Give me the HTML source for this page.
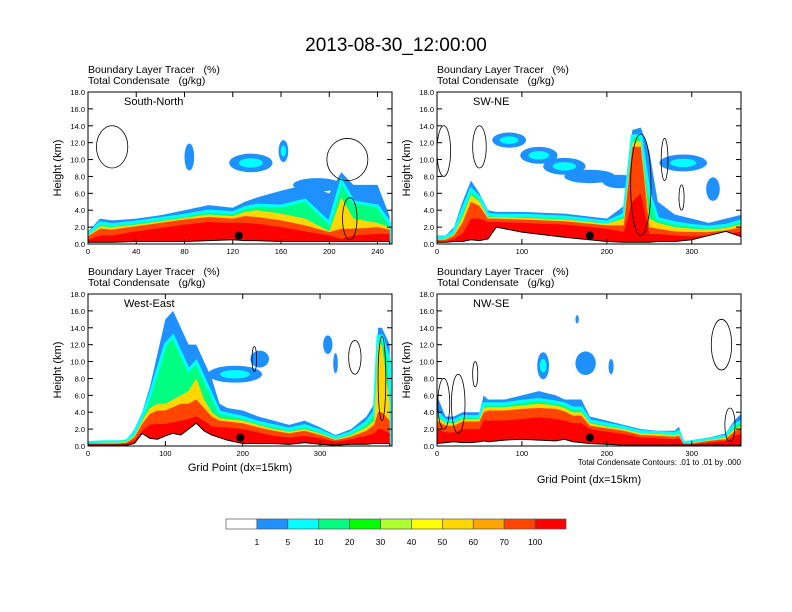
<!DOCTYPE html>
<html><head><meta charset="utf-8">
<style>
body{margin:0;background:#fff;}
svg{display:block;font-family:"Liberation Sans",sans-serif;}
</style></head>
<body>
<svg id="fig" width="792" height="612" viewBox="0 0 792 612">
<text x="396" y="51" text-anchor="middle" font-size="19">2013-08-30_12:00:00</text>
<g id="panels"></g>
<g id="colorbar"></g>
</svg>
<script>
// ---- Data ----
const bandLevels = [1, 10, 40, 70, 100];
const bandColors = ['#1e90ff', '#00ff80', '#ffd700', '#ff4500', '#ff0000'];
const cbLabels = ['1','5','10','20','30','40','50','60','70','100'];
const cbColors = ['#ffffff','#1e90ff','#00ffff','#00ff80','#00ff00','#adff2f','#ffff00','#ffd700','#ffa500','#ff4500','#ff0000'];
const yTicks = [0,2,4,6,8,10,12,14,16,18];

const p1X = [0,10,20,40,60,80,100,120,130,140,160,180,200,210,220,240,250];
const p1Blue = [1.5,3,2.8,3.0,3.4,4.0,4.6,4.3,5,5.5,6.3,7,6,8.5,7,7,3.3];
const p1Green = [1.2,2.5,2.3,2.6,3.0,3.4,3.9,3.7,4.3,4.6,4.5,5.2,2.5,7.5,5,4.5,2.5];
const p1Yellow = [1.0,2.1,2.0,2.3,2.7,3.1,3.5,3.3,3.8,4.0,3.6,3.0,1.5,5.5,3,2.5,2];
const p1Orange = [0.9,1.8,1.7,2.1,2.5,2.9,3.2,3.0,3.3,3.2,2.8,2.2,1.4,1.8,1.8,2,1.7];
const p1Red = [0.5,1.0,1.0,1.5,1.9,2.3,2.6,2.5,2.5,2.4,2.0,1.5,1.0,0.6,1.0,1.2,1.2];
const p1Terrain = [0.2,0.2,0.2,0.3,0.3,0.3,0.4,0.5,0.4,0.4,0.3,0.3,0.3,0.3,0.3,0.3,0.3];
const p1Blobs = [[84,10.3,4,1.6,0],[135,9.6,18,1.1,1],[162,11,4,1.3,1],[190,7.0,20,0.8,0]];
const p1Clouds = [[20,11.5,13,2.5],[215,10,17,2.5],[217,3,6,2.5]];

const p2X = [0,10,20,30,40,50,60,70,100,150,200,220,230,240,250,260,280,300,320,340,360];
const p2Blue = [1,1,2,5,7.5,6,4,3.8,3.8,3.6,3,4.5,13.5,13.8,11,5,3.5,3,2.5,3,3.5];
const p2Green = [0.8,0.8,1.5,4,6.5,5.5,3.5,3.4,3.4,3.2,2.6,3.5,12.8,12.8,6,3,2.5,2.2,2,2.2,2.8];
const p2Yellow = [0.6,0.6,1.2,3.2,5.8,5,3.2,3.2,3.1,2.9,2.4,3,12,12.2,3,2.5,2,1.8,1.7,1.9,2.4];
const p2Orange = [0.5,0.5,1,2.5,5,4.5,3,3,2.9,2.7,2.2,2.2,11.5,11.5,2,1.8,1.5,1.4,1.4,1.6,2];
const p2Red = [0.3,0.3,0.6,1.2,3,3,2.6,2.6,2.5,2.3,1.8,1.4,5,6,1.2,1.2,1,0.9,1,1.2,1.5];
const p2Terrain = [0.2,0.2,0.3,0.3,0.5,0.4,0.6,2.0,1.4,0.8,0.3,0.2,0.2,0.2,0.2,0.3,0.3,0.5,1,1.5,0.8];
const p2Blobs = [[85,12.3,20,0.9,1],[120,10.5,22,1.0,1],[150,9.2,25,1.0,1],[180,8.0,30,0.8,0],[215,7.4,20,0.8,0],[290,9.6,28,1.0,1],[325,6.5,8,1.4,0]];
const p2Clouds = [[8,11,8,3],[50,11.5,8,2.5],[240,7,12,6],[268,10,4,2.5],[288,5.5,3,1.5]];

const p3X = [0,20,40,50,60,70,80,90,100,110,120,130,140,150,160,170,180,200,220,240,260,280,300,320,340,360,370,375,380,390];
const p3Blue = [0.5,0.6,0.6,0.7,2,4,7,11,15,16,14,12,12,10,8,5,4.5,4.2,3.5,3,2.5,3,2.2,1.3,2,3.5,5,14,14,12];
const p3Green = [0.4,0.5,0.5,0.6,1.6,3.5,6,9,12,13,11,9,10,8,6,4,3.8,3.4,2.8,2.4,2,2.4,1.8,1,1.6,2.8,4,13,13,10];
const p3Yellow = [0.3,0.4,0.4,0.5,1.2,3,4.5,5,5,5.5,6,6.5,8,5.5,4,3.3,3.2,3,2.5,2,1.7,2,1.5,0.8,1.3,2.2,3,12,12,5];
const p3Orange = [0.3,0.3,0.3,0.4,1,2.6,3.8,4.2,4.2,4.6,5,5,5.5,4.5,3.5,3,2.9,2.7,2.2,1.8,1.5,1.8,1.3,0.7,1.1,1.8,2.5,4,4,3];
const p3Red = [0.2,0.2,0.2,0.3,0.6,1.8,2.5,2.6,2.6,2.8,3,3.2,3.5,3,2.3,2.2,2.2,2,1.6,1.2,1,1.2,0.9,0.5,0.8,1.2,1.5,2,2,1.5];
const p3Terrain = [0.1,0.1,0.1,0.1,0.3,1.5,0.9,0.8,1.2,1.5,1.3,2,2.7,1.8,1.3,1.0,0.7,0.3,0.3,0.3,0.2,0.4,0.2,0.1,0.2,0.2,0.3,0.3,0.3,0.3];
const p3Blobs = [[190,8.5,35,1.0,1],[222,10.3,12,1.0,0],[310,12,6,1.1,0],[320,9.8,3,1.2,0]];
const p3Clouds = [[345,10.5,8,2],[380,8,5,5],[215,10.3,3,1.5]];

const p4X = [0,10,20,30,40,50,55,60,80,100,120,140,150,160,170,180,200,220,240,260,280,285,290,300,320,340,350,360];
const p4Blue = [6,3.5,3.5,4,4,4,6,5.5,5.5,6,6.5,6,5.5,5.5,5.5,3.5,3,2.5,2,1.8,1.8,2.3,0.5,0.7,1,1.5,3,4];
const p4Green = [4,3,3,3.5,3.5,3.5,5,5,5,5.3,5.5,5.2,5,4.5,4.5,3,2.6,2.2,1.7,1.6,1.5,1.7,0.4,0.5,0.8,1.2,2.5,3];
const p4Yellow = [3.5,2.7,2.7,3.2,3.2,3.2,4.5,4.6,4.6,4.8,5,4.8,4.5,4,4,2.7,2.3,2,1.5,1.4,1.3,1.4,0.3,0.4,0.7,1,2,2.5];
const p4Orange = [3,2.4,2.4,2.9,2.9,2.9,4,4.2,4.2,4.4,4.5,4.4,4.1,3.6,3.6,2.4,2.1,1.8,1.3,1.2,1.1,1.2,0.3,0.3,0.6,0.8,1.7,2.2];
const p4Red = [2,1.6,1.6,2,2,2,3,3,3,3.2,3.4,3.2,3,2.7,2.7,2,1.7,1.4,1,0.9,0.8,0.9,0.2,0.2,0.4,0.6,1.2,1.5];
const p4Terrain = [0.3,0.4,0.5,0.4,0.4,0.5,0.6,0.5,0.7,0.8,0.7,0.6,0.8,0.5,0.4,0.3,0.2,0.1,0.1,0.1,0.1,0.1,0.1,0.1,0.1,0.1,0.1,0.1];
const p4Blobs = [[125,9.5,7,1.6,1],[175,9.8,12,1.4,0],[205,9.4,3,0.9,0],[165,15,2,0.5,0]];
const p4Clouds = [[8,5,7,3],[25,5,8,3.5],[45,8.5,3,1.5],[335,12,12,3],[345,2.5,6,2]];

const panels = [
 {name:'south-north',label:'South-North',x0:88,y0:92,xmax:252,xt:[0,40,80,120,160,200,240],X:p1X,bands:[p1Blue,p1Green,p1Yellow,p1Orange,p1Red],ter:p1Terrain,blobs:p1Blobs,clouds:p1Clouds,dot:125,xl:false},
 {name:'sw-ne',label:'SW-NE',x0:437,y0:92,xmax:358,xt:[0,100,200,300],X:p2X,bands:[p2Blue,p2Green,p2Yellow,p2Orange,p2Red],ter:p2Terrain,blobs:p2Blobs,clouds:p2Clouds,dot:180,xl:false},
 {name:'west-east',label:'West-East',x0:88,y0:294,xmax:393,xt:[0,100,200,300],X:p3X,bands:[p3Blue,p3Green,p3Yellow,p3Orange,p3Red],ter:p3Terrain,blobs:p3Blobs,clouds:p3Clouds,dot:197,xl:true},
 {name:'nw-se',label:'NW-SE',x0:437,y0:294,xmax:358,xt:[0,100,200,300],X:p4X,bands:[p4Blue,p4Green,p4Yellow,p4Orange,p4Red],ter:p4Terrain,blobs:p4Blobs,clouds:p4Clouds,dot:180,xl:true}
];
const W=304,H=152,ZMAX=18;
const NS='http://www.w3.org/2000/svg';
function mk(tag,attrs,parent){const e=document.createElementNS(NS,tag);for(const k in attrs)e.setAttribute(k,attrs[k]);if(parent)parent.appendChild(e);return e;}
const root=document.getElementById('panels');
panels.forEach((p,pi)=>{
  const sx=v=>p.x0+v/p.xmax*W, sy=z=>p.y0+H-z/ZMAX*H;
  const g=mk('g',{},root);
  
  
  const t1=mk('text',{x:p.x0,y:p.y0-19,'font-size':10.5},g);t1.textContent='Boundary Layer Tracer\u00a0\u00a0\u00a0(%)';
  
  
  const t2=mk('text',{x:p.x0,y:p.y0-8,'font-size':10.5},g);t2.textContent='Total Condensate\u00a0\u00a0\u00a0(g/kg)';
  
  
  const cid='clip'+pi;
  const cp=mk('clipPath',{id:cid},g);mk('rect',{x:p.x0,y:p.y0,width:W,height:H},cp);
  const plot=mk('g',{'clip-path':'url(#'+cid+')'},g);
  p.blobs.forEach(b=>{
    const e=mk('ellipse',{cx:sx(b[0]),cy:sy(b[1]),rx:b[2]/p.xmax*W,ry:b[3]/ZMAX*H,fill:bandColors[0]},plot);
    
    
    if(b[4]>=1){const e2=mk('ellipse',{cx:sx(b[0]),cy:sy(b[1]),rx:b[2]/p.xmax*W*0.55,ry:b[3]/ZMAX*H*0.5,fill:'#00ffff'},plot);
      
      }
  });
  p.bands.forEach((top,bi)=>{
    let d='M'+p.X.map((x,i)=>sx(x)+','+sy(top[i])).join(' L');
    for(let i=p.X.length-1;i>=0;i--)d+=' L'+sx(p.X[i])+','+sy(0);
    const path=mk('path',{d:d+'Z',fill:bandColors[bi],stroke:bi==1?'#00ffff':'none','stroke-width':bi==1?3:0},plot);
    
    
  });
  let td='M'+p.X.map((x,i)=>sx(x)+','+sy(p.ter[i])).join(' L')+' L'+sx(p.X[p.X.length-1])+','+sy(0)+' L'+sx(0)+','+sy(0)+'Z';
  const ter=mk('path',{d:td,fill:'#fff',stroke:'#000','stroke-width':1},plot);
  
  
  p.clouds.forEach(c=>{
    const e=mk('ellipse',{cx:sx(c[0]),cy:sy(c[1]),rx:c[2]/p.xmax*W,ry:c[3]/ZMAX*H,fill:'none',stroke:'#000','stroke-width':0.8},plot);
    
    
  });
  const dot=mk('circle',{cx:sx(p.dot),cy:sy(1.0),r:4,fill:'#000'},g);
  
  
  const lab=mk('text',{x:p.x0+36,y:p.y0+13,'font-size':11},g);lab.textContent=p.label;
  
  
  const fr=mk('rect',{x:p.x0,y:p.y0,width:W,height:H,fill:'none',stroke:'#000','stroke-width':1},g);
  
  
  yTicks.forEach(v=>{
    const y=sy(v);
    mk('line',{x1:p.x0,x2:p.x0+5,y1:y,y2:y,stroke:'#000'},g);
    mk('line',{x1:p.x0+W-5,x2:p.x0+W,y1:y,y2:y,stroke:'#000'},g);
    const tt=mk('text',{x:p.x0-3,y:y+3,'font-size':7.5,'text-anchor':'end'},g);tt.textContent=v.toFixed(1);
    
    
  });
  p.xt.forEach(v=>{
    const x=sx(v);
    mk('line',{x1:x,x2:x,y1:p.y0+H,y2:p.y0+H-5,stroke:'#000'},g);
    mk('line',{x1:x,x2:x,y1:p.y0,y2:p.y0+5,stroke:'#000'},g);
    const tt=mk('text',{x:x,y:p.y0+H+10,'font-size':7.5,'text-anchor':'middle'},g);tt.textContent=v;
    
    
  });
  const yl=mk('text',{x:0,y:0,'font-size':11,'text-anchor':'middle',transform:'translate('+(p.x0-27)+','+(p.y0+H/2)+') rotate(-90)'},g);yl.textContent='Height (km)';
  
  
  if(p.xl){
    const xly = pi==3 ? p.y0+H+37 : p.y0+H+25;
    const xl=mk('text',{x:p.x0+W/2,y:xly,'font-size':11,'text-anchor':'middle'},g);xl.textContent='Grid Point (dx=15km)';
    
    
  }
  if(pi==3){
    const n=mk('text',{x:p.x0+W,y:p.y0+H+19,'font-size':8,'text-anchor':'end'},g);n.textContent='Total Condensate Contours: .01 to .01 by .000';
    
    
  }
});
const cb=document.getElementById('colorbar');
const cbX=226,cbW=340,cbY=519,cbH=10,bw=cbW/cbColors.length;
cbColors.forEach((c,i)=>{
  const r=mk('rect',{x:cbX+i*bw,y:cbY,width:bw,height:cbH,fill:c,stroke:'#555','stroke-width':0.7},cb);
  
  
});
cbLabels.forEach((l,i)=>{
  const t=mk('text',{x:cbX+(i+1)*bw,y:cbY+26,'font-size':8.5,'text-anchor':'middle'},cb);t.textContent=l;
  
  
});
</script>
</body></html>
